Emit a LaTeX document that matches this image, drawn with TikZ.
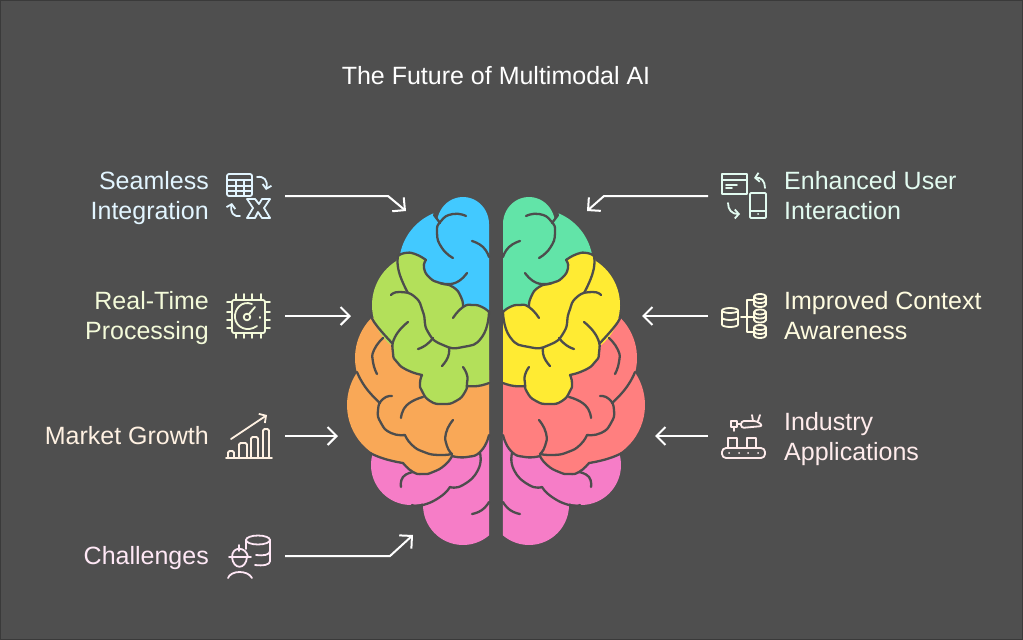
\documentclass[tikz,border=0pt]{standalone}
\usepackage{fontspec}
\setmainfont{Liberation Sans}
\usepackage{xcolor}
\definecolor{boardColor}{HTML}{4F4F4F}
\definecolor{edgeColor}{HTML}{3A3A3A}
\definecolor{brainLine}{HTML}{4D4D4D}
\definecolor{lobeBlue}{HTML}{42C9FF}
\definecolor{lobeLime}{HTML}{B3E05A}
\definecolor{lobeOrange}{HTML}{F9A857}
\definecolor{lobeMint}{HTML}{62E4A8}
\definecolor{lobeYellow}{HTML}{FFEB33}
\definecolor{lobeRed}{HTML}{FF7F7F}
\definecolor{lobePink}{HTML}{F67DC7}
\definecolor{tintBlue}{HTML}{E2F5FF}
\definecolor{tintLime}{HTML}{F3FAD9}
\definecolor{tintOrange}{HTML}{FFF1E2}
\definecolor{tintPink}{HTML}{FFE8F6}
\definecolor{tintMint}{HTML}{E2FBF0}
\definecolor{tintYellow}{HTML}{FFFCE0}
\definecolor{tintRed}{HTML}{FFECEC}
\usepackage{tikz}
\usetikzlibrary{arrows.meta}
\tikzset{
  lobeline/.style={draw=brainLine,line width=2.3pt,line cap=round,line join=round},
  icon/.style={line width=1.8pt,line cap=round,line join=round},
  label/.style={inner sep=0pt,font=\fontsize{25}{30}\selectfont},
  conn/.style={draw=white,line width=2pt,-{Straight Barb[length=9pt,width=18pt]}}
}
\newcommand\lobeline[1]{\draw[lobeline] plot[smooth,tension=.95] coordinates {#1};}
% one half of the brain: #1 top, #2 middle, #3 lower
\newcommand\brainhalf[3]{
\fill[lobePink] plot[domain=194:73,samples=25] ({411+40*cos(\x)},{465+40*sin(\x)})
  -- plot[domain=180:49,samples=25] ({463+40*cos(\x)},{505+40*sin(\x)})
  -- (489,430) -- (400,440) -- cycle;
\fill[#3] plot[domain=226:166,samples=15] ({412+57*cos(\x)},{358+57*sin(\x)})
  -- plot[domain=214:92,samples=25] ({405+58*cos(\x)},{405+58*sin(\x)})
  -- plot[smooth,tension=.95] coordinates {(403,463) (413,472) (423,474) (433,472) (445,465) (452,456)}
  -- plot[smooth,tension=.95] coordinates {(452,456) (467,457) (481,451) (489,435)}
  -- (489,370) -- (395,340) -- cycle;
\fill[#1] (489,310) -- plot[domain=0:-170,samples=25] ({463+26*cos(\x)},{224+27*sin(\x)})
  -- plot[domain=247:192,samples=15] ({455+56*cos(\x)},{265+56*sin(\x)})
  -- (420,300) -- cycle;
\fill[#2] plot[smooth,tension=.95] coordinates {(398,256) (405,253) (415,254) (426,260)}
  -- plot[smooth,tension=.95] coordinates {(426,260) (424,268) (430,278) (440,283) (453,287) (461,297) (463,307)}
  -- plot[smooth,tension=.95] coordinates {(463,307) (473,305) (482,307) (489,312)}
  -- (489,383)
  -- plot[smooth,tension=.95] coordinates {(489,383) (478,386) (467,386)}
  -- plot[smooth,tension=.95] coordinates {(467,386) (465,392) (456,401) (443,404) (430,401) (422,391) (420,383) (422,375)}
  -- plot[smooth,tension=.95] coordinates {(422,375) (415,374) (407,370) (397,362) (393,353) (392,343)}
  -- plot[domain=130:238,samples=25] ({424+52*cos(\x)},{305+52*sin(\x)})
  -- cycle;
%
\lobeline{(398,256) (405,253) (415,254) (426,260)}
\lobeline{(426,260) (424,268) (430,278) (440,283) (453,287) (461,297) (463,307)}
\lobeline{(453,318) (463,307) (473,305) (482,307) (489,312)}
\lobeline{(391,295) (400,292) (415,297) (423,312) (428,332) (443,345) (463,347) (482,337) (489,312)}
\lobeline{(398,256) (399,272) (408,293)}
\lobeline{(408,322) (395,337) (393,353) (397,362) (407,370) (422,375)}
\lobeline{(422,375) (420,383) (422,391) (430,401) (443,404) (456,401) (465,392) (467,383) (467,375) (463,367)}
\lobeline{(467,386) (478,386) (489,383)}
\lobeline{(371,316) (377,326) (392,343)}
\lobeline{(418,349) (426,345) (433,338)}
\lobeline{(442,366) (448,357) (449,348)}
% blue part
\lobeline{(466,216) (453,214) (441,221) (437,233) (442,248) (453,258)}
\lobeline{(434,215) (440,223)}
\lobeline{(472,241) (483,247) (489,257)}
\lobeline{(440,283) (455,283) (467,273)}
% orange part
\lobeline{(383,338) (374,350) (373,362) (377,374)}
\lobeline{(357,372) (366,388) (380,403)}
\lobeline{(392,396) (383,399) (378,410) (381,423) (391,433) (405,435)}
\lobeline{(405,435) (412,445) (424,452) (438,455) (452,454)}
\lobeline{(401,418) (407,405) (423,397)}
\lobeline{(453,420) (446,433) (447,446) (452,454)}
\lobeline{(452,456) (467,457) (481,451) (489,435)}
\lobeline{(370,453) (385,459) (403,463)}
\lobeline{(403,463) (413,472) (423,474) (433,472) (445,465) (452,456)}
% pink part
\lobeline{(401,487) (403,477) (413,472)}
\lobeline{(480,453) (478,470) (463,485) (450,487)}
\lobeline{(450,487) (440,497) (423,505) (412,505)}
\lobeline{(472,514) (482,510) (489,502)}
}

\begin{document}
\begin{tikzpicture}[x=1pt,y=-1pt]
\useasboundingbox (0,0) rectangle (1023,640);
\fill[boardColor] (0,0) rectangle (1023,640);
\draw[edgeColor,line width=1pt] (.5,.5) rectangle (1022.5,639.5);
%
\node[label,text=white] (title) at (496,76) {The Future of Multimodal AI};
%
\brainhalf{lobeBlue}{lobeLime}{lobeOrange}
\scope[xshift=992pt,xscale=-1]
\brainhalf{lobeMint}{lobeYellow}{lobeRed}
\endscope
%
\node[label,text=tintBlue,anchor=east,align=right] (seamless) at (209,198) {Seamless\\Integration};
\node[label,text=tintLime,anchor=east,align=right] (realtime) at (209,318) {Real-Time\\Processing};
\node[label,text=tintOrange,anchor=east,align=right] (market) at (209,436) {Market Growth};
\node[label,text=tintPink,anchor=east,align=right] (challenges) at (209,558) {Challenges};
\node[label,text=tintMint,anchor=west,align=left] (enhanced) at (784,196) {Enhanced User\\Interaction};
\node[label,text=tintYellow,anchor=west,align=left] (improved) at (784,316) {Improved Context\\Awareness};
\node[label,text=tintRed,anchor=west,align=left] (industry) at (784,439) {Industry\\Applications};
%
\coordinate (seamlessFrom) at (285,196);
\coordinate (seamlessBend) at (388,196);
\coordinate (seamlessTo) at (406,211);
\coordinate (realtimeFrom) at (285,316);
\coordinate (realtimeTo) at (351,316);
\coordinate (marketFrom) at (285,436);
\coordinate (marketTo) at (338,436);
\coordinate (challengesFrom) at (285,556);
\coordinate (challengesBend) at (390,556);
\coordinate (challengesTo) at (413,535);
\coordinate (enhancedFrom) at (708,196);
\coordinate (enhancedBend) at (604,196);
\coordinate (enhancedTo) at (587,211);
\coordinate (improvedFrom) at (708,316);
\coordinate (improvedTo) at (642,316);
\coordinate (industryFrom) at (708,436);
\coordinate (industryTo) at (655,436);
\draw[conn] (seamlessFrom) -- (seamlessBend) -- (seamlessTo);
\draw[conn] (realtimeFrom) -- (realtimeTo);
\draw[conn] (marketFrom) -- (marketTo);
\draw[conn] (challengesFrom) -- (challengesBend) -- (challengesTo);
\draw[conn] (enhancedFrom) -- (enhancedBend) -- (enhancedTo);
\draw[conn] (improvedFrom) -- (improvedTo);
\draw[conn] (industryFrom) -- (industryTo);
% table, arrows and x
\scope[icon,draw=tintBlue]
\draw[rounded corners=2pt] (227,174) rectangle (252,196);
\draw (227,180) -- (252,180) (227,186) -- (252,186) (227,191) -- (252,191);
\draw (236,180) -- (236,196) (244,180) -- (244,196);
\draw[-{Straight Barb[length=4pt,width=9pt]}] (257,177) .. controls (264,176) and (268,180) .. (266,190);
\draw[-{Straight Barb[length=4pt,width=9pt]}] (240,216) .. controls (233,217) and (230,212) .. (232,203);
\draw (247,199) -- (255,199) -- (259,204) -- (262,199) -- (270,199) -- (264,208) -- (270,218) -- (262,218) -- (258,212) -- (255,218) -- (247,218) -- (253,208) -- cycle;
\endscope
% chip
\scope[icon,draw=tintLime]
\draw[rounded corners=2pt] (232,300) rectangle (265,333);
\foreach \px in {236,244,252,261}
  \draw (\px,294) -- (\px,300) (\px,333) -- (\px,338);
\foreach \py in {302,312,320,328}
  \draw (227,\py) -- (232,\py) (265,\py) -- (270,\py);
\draw (252,304) .. controls (242,300) and (234,309) .. (235,318) .. controls (236,327) and (247,333) .. (257,326);
\draw (247,317) circle (3.3);
\draw (249,314) -- (255,307);
\draw (260,317) -- (260,318);
\endscope
% chart
\scope[icon,draw=tintOrange]
\draw (226,458) -- (272,458);
\draw[rounded corners=1.5pt] (228,458) -- (228,451) -- (234,451) -- (234,458);
\draw[rounded corners=1.5pt] (239,458) -- (239,443) -- (247,443) -- (247,458);
\draw[rounded corners=1.5pt] (251,458) -- (251,437) -- (258,437) -- (258,458);
\draw[rounded corners=1.5pt] (263,458) -- (263,429) -- (269,429) -- (269,458);
\draw[-{Straight Barb[length=5pt,width=11pt]}] (231,439) -- (267,415);
\endscope
% worker and database
\scope[icon,draw=tintPink]
\draw (258,540) ellipse (12 and 4.5);
\draw (246,540) -- (246,549);
\draw (270,540) -- (270,561);
\draw (270,551) .. controls (270,555) and (263,556) .. (256,555);
\draw (270,561) .. controls (270,565) and (263,566) .. (255,565);
\draw (229,557) -- (251,557);
\draw (232,557) .. controls (232,546) and (246,546) .. (248,557);
\draw (239,545) -- (239,551);
\draw (232,557) .. controls (233,570) and (246,570) .. (247,557);
\draw (228,578) .. controls (231,570) and (248,570) .. (252,578);
\endscope
% card and phone
\scope[icon,draw=tintMint]
\draw (722,174) rectangle (747,194);
\draw (722,180) -- (747,180);
\draw (726,185) -- (737,185) (726,188) -- (732,188);
\draw[rounded corners=1pt] (750,193) rectangle (766,218);
\draw (750,211) -- (766,211);
\draw (758,214) -- (758.2,214);
\draw[-{Straight Barb[length=4pt,width=9pt]}] (765,188) .. controls (765,181) and (761,177) .. (754,178);
\draw[-{Straight Barb[length=4pt,width=9pt]}] (728,203) .. controls (728,210) and (732,214) .. (740,214);
\endscope
% database tree
\scope[icon,draw=tintYellow]
\foreach \cx/\cy/\rx/\hgt in {730/308.5/8/16,760/294.5/6/10,760/310/6/10,760/325.5/6/10}{
  \draw (\cx,\cy+2) ellipse (\rx pt and 2.5pt);
  \draw (\cx-\rx,\cy+2) -- (\cx-\rx,\cy+\hgt) arc (180:360:\rx pt and 2.5pt) -- (\cx+\rx,\cy+2);
  \draw (\cx-\rx,\cy+\hgt/2+1) arc (180:360:\rx pt and 2.5pt);
}
\draw (741,317) -- (747,317) (753,300) -- (747,300) -- (747,332) -- (753,332) (747,317) -- (753,317);
\endscope
% conveyor
\scope[icon,draw=tintRed]
\draw[rounded corners=4pt] (722,448) rectangle (765,458);
\foreach \px in {729,739,748,758}
  \draw (\px,453) -- (\px+.2,453);
\draw (728,448) -- (728,438) -- (737,438) -- (737,448);
\draw (747,448) -- (747,438) -- (756,438) -- (756,448);
\draw (731,421) rectangle (737,427);
\draw (734,427) -- (734,431);
\draw (737,424) -- (741,424);
\draw[rounded corners=3pt] (741,421) -- (757,421) -- (763,426) -- (741,428) -- cycle;
\draw (753,421) -- (752,415) (758,421) -- (760,415);
\endscope
\end{tikzpicture}
\end{document}
